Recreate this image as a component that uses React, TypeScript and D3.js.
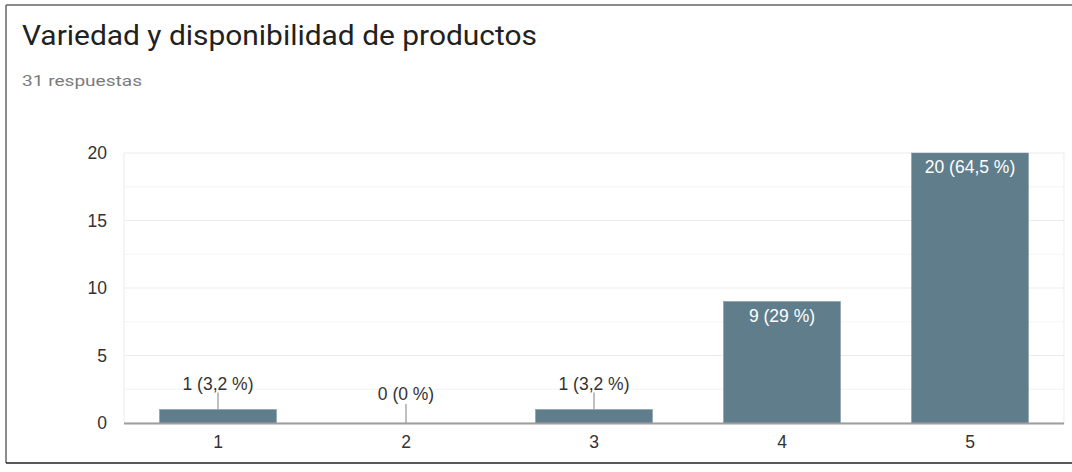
import React from "react";
import * as d3 from "d3";

const title = "Variedad y disponibilidad de productos";
const subtitle = "31 respuestas";
const categories = ["1", "2", "3", "4", "5"];
const counts = [1, 0, 1, 9, 20];
const percentLabels = ["3,2 %", "0 %", "3,2 %", "29 %", "64,5 %"];
const yTicks = [0, 5, 10, 15, 20];
const yMinorTicks = [2.5, 7.5, 12.5, 17.5];

const W = 1072;
const H = 472;
const plot = { left: 124, right: 1064, top: 153, bottom: 423 };
const FONT = "'Liberation Sans', Arial, sans-serif";
const FS = 17.5;

export default function App() {
  const x = d3
    .scaleBand<string>()
    .domain(categories)
    .range([plot.left, plot.right])
    .paddingInner(0.378)
    .paddingOuter(0.189);
  const y = d3.scaleLinear().domain([0, 20]).range([plot.bottom, plot.top]);

  return (
    <svg
      width={W}
      height={H}
      style={{ position: "absolute", left: 0, top: 0, background: "#fff" }}
    >
      {/* frame */}
      <line x1={6} x2={W} y1={5} y2={5} stroke="#666" strokeWidth={1.5} />
      <line x1={6} x2={6} y1={5} y2={463} stroke="#666" strokeWidth={1.5} />
      <line x1={6} x2={W} y1={463} y2={463} stroke="#222" strokeWidth={1.5} />

      <text
        x={22}
        y={45}
        fontFamily="Roboto, sans-serif"
        fontSize={28}
        fill="#212121"
        textLength={515}
        lengthAdjust="spacingAndGlyphs"
      >
        {title}
      </text>
      <text
        x={22}
        y={86}
        fontFamily="Roboto, sans-serif"
        fontSize={15.5}
        fill="#7b7b7b"
        textLength={120}
        lengthAdjust="spacingAndGlyphs"
      >
        {subtitle}
      </text>

      {/* grid */}
      {yMinorTicks.map((t) => (
        <line key={"m" + t} x1={plot.left} x2={plot.right} y1={y(t)} y2={y(t)} stroke="#f4f4f4" strokeWidth={1} />
      ))}
      {yTicks.map((t) => (
        <line key={"g" + t} x1={plot.left} x2={plot.right} y1={y(t)} y2={y(t)} stroke="#ebebeb" strokeWidth={1} />
      ))}
      <line x1={plot.left} x2={plot.left} y1={plot.top} y2={plot.bottom} stroke="#ebebeb" strokeWidth={1} />
      <line x1={plot.right} x2={plot.right} y1={plot.top} y2={plot.bottom} stroke="#ebebeb" strokeWidth={1} />

      {/* y labels */}
      {yTicks.map((t) => (
        <text key={"yl" + t} x={107} y={y(t) + 6} textAnchor="end" fontFamily={FONT} fontSize={FS} fill="#333">
          {t}
        </text>
      ))}

      {/* bars */}
      {counts.map((v, i) => {
        const cat = categories[i];
        const bx = x(cat)!;
        const bw = x.bandwidth();
        const top = y(v);
        const cx = bx + bw / 2;
        const label = `${v} (${percentLabels[i]})`;
        const inside = plot.bottom - top > 30;
        return (
          <g key={cat}>
            {v > 0 && (
              <rect x={bx} y={top} width={bw} height={plot.bottom - top} fill="#607d8b" stroke="#7d949f" strokeWidth={0.5} />
            )}
            {inside ? (
              <text x={cx} y={top + 20} textAnchor="middle" fontFamily={FONT} fontSize={FS} fill="#fff">
                {label}
              </text>
            ) : (
              <g>
                <line x1={cx} x2={cx} y1={top - (v === 0 ? 19 : 17)} y2={top} stroke="#aaa" strokeWidth={1.5} />
                <text x={cx} y={top - (v === 0 ? 23 : 19.5)} textAnchor="middle" fontFamily={FONT} fontSize={FS} fill="#333">
                  {label}
                </text>
              </g>
            )}
            <text x={cx} y={448} textAnchor="middle" fontFamily={FONT} fontSize={FS} fill="#333">
              {cat}
            </text>
          </g>
        );
      })}

      {/* baseline */}
      <line x1={plot.left} x2={plot.right} y1={plot.bottom + 0.5} y2={plot.bottom + 0.5} stroke="#9e9e9e" strokeWidth={2} />
    </svg>
  );
}
